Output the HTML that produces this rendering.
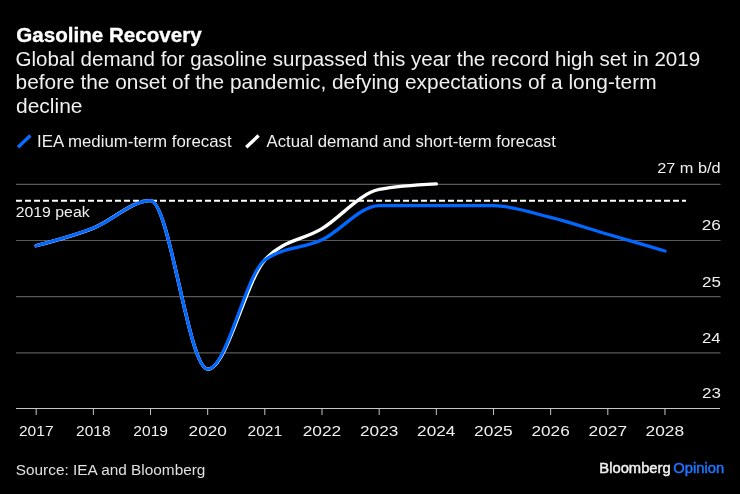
<!DOCTYPE html>
<html><head><meta charset="utf-8">
<style>
html,body{margin:0;padding:0;background:#000;}
body{width:740px;height:494px;overflow:hidden;position:relative;}
svg{position:absolute;left:0;top:0;display:block;will-change:transform;}
text{font-family:"Liberation Sans",sans-serif;}
</style></head><body>
<svg width="740" height="494" viewBox="0 0 740 494">
<rect width="740" height="494" fill="#000"/>
<line x1="18.0" y1="147.3" x2="30.4" y2="135.6" stroke="#0a6cff" stroke-width="3.4"/>
<line x1="246.2" y1="147.3" x2="258.6" y2="135.6" stroke="#fff" stroke-width="3.4"/>
<g stroke="#595959" stroke-width="1.2">
<line x1="16" y1="184.35" x2="720.5" y2="184.35"/>
<line x1="16" y1="240.5" x2="720.5" y2="240.5"/>
<line x1="16" y1="296.6" x2="720.5" y2="296.6"/>
<line x1="16" y1="352.95" x2="720.5" y2="352.95" stroke-width="1.3"/>
</g>
<g stroke="#c8c8c8" stroke-width="1">
<line x1="16" y1="408.5" x2="720" y2="408.5"/>
<line x1="36.20" y1="408" x2="36.20" y2="415"/><line x1="93.36" y1="408" x2="93.36" y2="415"/><line x1="150.52" y1="408" x2="150.52" y2="415"/><line x1="207.68" y1="408" x2="207.68" y2="415"/><line x1="264.84" y1="408" x2="264.84" y2="415"/><line x1="322.00" y1="408" x2="322.00" y2="415"/><line x1="379.16" y1="408" x2="379.16" y2="415"/><line x1="436.32" y1="408" x2="436.32" y2="415"/><line x1="493.48" y1="408" x2="493.48" y2="415"/><line x1="550.64" y1="408" x2="550.64" y2="415"/><line x1="607.80" y1="408" x2="607.80" y2="415"/><line x1="664.96" y1="408" x2="664.96" y2="415"/>
</g>
<line x1="16" y1="200.8" x2="686" y2="200.8" stroke="#fff" stroke-width="1.9" stroke-dasharray="6 3"/>
<path d="M36.20,245.72C55.25,240.66,74.31,235.59,93.36,228.08C112.41,220.57,131.47,200.64,150.52,200.64C169.57,200.64,188.63,369.20,207.68,369.20C226.73,369.20,245.79,280.91,264.84,260.00C283.89,239.09,302.95,240.40,322.00,228.64C341.05,216.88,360.11,193.17,379.16,189.44C398.21,185.71,417.27,184.77,436.32,183.84" fill="none" stroke="#fff" stroke-width="3.4" stroke-linecap="round"/>
<path d="M36.20,245.72C55.25,240.66,74.31,235.59,93.36,228.08C112.41,220.57,131.47,200.64,150.52,200.64C169.57,200.64,188.63,369.20,207.68,369.20C226.73,369.20,245.79,273.44,264.84,260.00C283.89,246.56,302.95,248.89,322.00,239.84C341.05,230.79,360.11,205.68,379.16,205.68C398.21,205.68,417.27,205.68,436.32,205.68C455.37,205.68,474.43,205.68,493.48,205.68C512.53,205.68,531.59,212.68,550.64,217.44C569.69,222.20,588.75,228.64,607.80,234.24C626.85,239.84,645.91,245.44,664.96,251.04" fill="none" stroke="#0068ff" stroke-width="3.3" stroke-linecap="round" stroke-linejoin="round"/>
<text id="title" x="16.30" y="41.80" font-size="20.50" font-weight="bold" stroke="#ffffff" stroke-width="0.35" fill="#ffffff" textLength="185.30" lengthAdjust="spacingAndGlyphs">Gasoline Recovery</text>
<text id="sub1" x="15.47" y="65.80" font-size="20.00" font-weight="normal" fill="#f0f0f0" textLength="684.72" lengthAdjust="spacingAndGlyphs">Global demand for gasoline surpassed this year the record high set in 2019</text>
<text id="sub2" x="15.55" y="89.40" font-size="20.00" font-weight="normal" fill="#f0f0f0" textLength="640.99" lengthAdjust="spacingAndGlyphs">before the onset of the pandemic, defying expectations of a long-term</text>
<text id="sub3" x="16.01" y="113.10" font-size="20.00" font-weight="normal" fill="#f0f0f0" textLength="66.48" lengthAdjust="spacingAndGlyphs">decline</text>
<text id="leg1" x="37.12" y="146.80" font-size="17.00" font-weight="normal" fill="#f0f0f0" textLength="194.55" lengthAdjust="spacingAndGlyphs">IEA medium-term forecast</text>
<text id="leg2" x="266.60" y="146.80" font-size="17.00" font-weight="normal" fill="#f0f0f0" textLength="289.27" lengthAdjust="spacingAndGlyphs">Actual demand and short-term forecast</text>
<text id="y27" x="657.21" y="173.40" font-size="15.40" font-weight="normal" fill="#f0f0f0" textLength="63.44" lengthAdjust="spacingAndGlyphs">27 m b/d</text>
<text id="y26" x="701.66" y="230.40" font-size="15.40" font-weight="normal" fill="#f0f0f0" textLength="19.14" lengthAdjust="spacingAndGlyphs">26</text>
<text id="y25" x="702.03" y="286.50" font-size="15.40" font-weight="normal" fill="#f0f0f0" textLength="18.92" lengthAdjust="spacingAndGlyphs">25</text>
<text id="y24" x="702.04" y="342.80" font-size="15.40" font-weight="normal" fill="#f0f0f0" textLength="18.62" lengthAdjust="spacingAndGlyphs">24</text>
<text id="y23" x="702.03" y="398.30" font-size="15.40" font-weight="normal" fill="#f0f0f0" textLength="18.92" lengthAdjust="spacingAndGlyphs">23</text>
<text id="peak" x="15.73" y="217.10" font-size="15.50" font-weight="normal" fill="#f0f0f0" textLength="73.93" lengthAdjust="spacingAndGlyphs">2019 peak</text>
<text id="src" x="15.76" y="475.30" font-size="15.50" font-weight="normal" fill="#e0e0e0" textLength="189.68" lengthAdjust="spacingAndGlyphs">Source: IEA and Bloomberg</text>
<text id="bb" x="599.32" y="473.30" font-size="14.30" font-weight="normal" stroke="#f0f0f0" stroke-width="0.45" fill="#f0f0f0" textLength="71.39" lengthAdjust="spacingAndGlyphs">Bloomberg</text>
<text id="op" x="673.34" y="473.40" font-size="14.30" font-weight="normal" stroke="#1f74ff" stroke-width="0.45" fill="#1f74ff" textLength="50.86" lengthAdjust="spacingAndGlyphs">Opinion</text>
<text id="x2017" x="18.99" y="436.00" font-size="15.30" font-weight="normal" fill="#f0f0f0" textLength="34.55" lengthAdjust="spacingAndGlyphs">2017</text>
<text id="x2018" x="76.06" y="436.00" font-size="15.30" font-weight="normal" fill="#f0f0f0" textLength="34.55" lengthAdjust="spacingAndGlyphs">2018</text>
<text id="x2019" x="133.38" y="436.00" font-size="15.30" font-weight="normal" fill="#f0f0f0" textLength="34.55" lengthAdjust="spacingAndGlyphs">2019</text>
<text id="x2020" x="188.58" y="436.00" font-size="15.30" font-weight="normal" fill="#f0f0f0" textLength="38.24" lengthAdjust="spacingAndGlyphs">2020</text>
<text id="x2021" x="247.52" y="436.00" font-size="15.30" font-weight="normal" fill="#f0f0f0" textLength="34.55" lengthAdjust="spacingAndGlyphs">2021</text>
<text id="x2022" x="302.69" y="436.00" font-size="15.30" font-weight="normal" fill="#f0f0f0" textLength="38.53" lengthAdjust="spacingAndGlyphs">2022</text>
<text id="x2023" x="360.03" y="436.00" font-size="15.30" font-weight="normal" fill="#f0f0f0" textLength="38.24" lengthAdjust="spacingAndGlyphs">2023</text>
<text id="x2024" x="417.09" y="436.00" font-size="15.30" font-weight="normal" fill="#f0f0f0" textLength="38.24" lengthAdjust="spacingAndGlyphs">2024</text>
<text id="x2025" x="474.14" y="436.00" font-size="15.30" font-weight="normal" fill="#f0f0f0" textLength="38.53" lengthAdjust="spacingAndGlyphs">2025</text>
<text id="x2026" x="531.49" y="436.00" font-size="15.30" font-weight="normal" fill="#f0f0f0" textLength="38.24" lengthAdjust="spacingAndGlyphs">2026</text>
<text id="x2027" x="588.54" y="436.00" font-size="15.30" font-weight="normal" fill="#f0f0f0" textLength="38.53" lengthAdjust="spacingAndGlyphs">2027</text>
<text id="x2028" x="645.60" y="436.00" font-size="15.30" font-weight="normal" fill="#f0f0f0" textLength="38.53" lengthAdjust="spacingAndGlyphs">2028</text>
</svg>
</body></html>
